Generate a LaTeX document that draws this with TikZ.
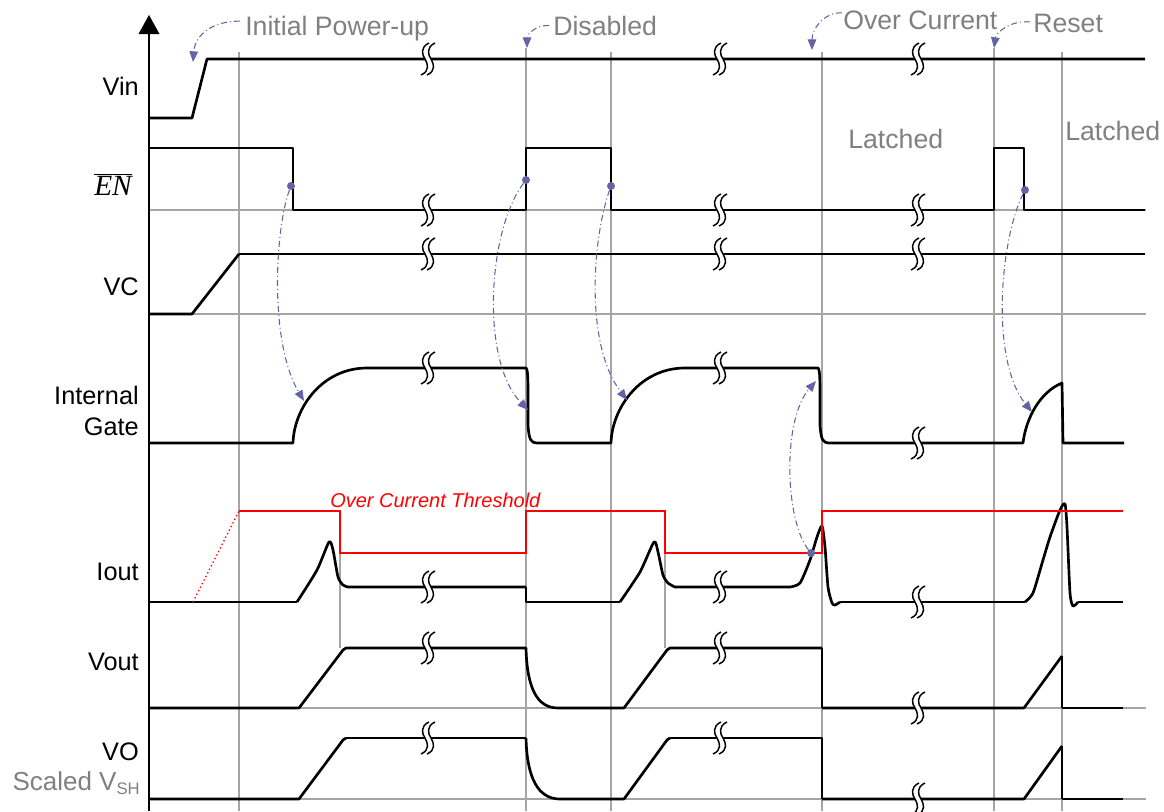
\documentclass[tikz,border=0pt]{standalone}
\usepackage{fontspec}
\setmainfont{Liberation Sans}
\newfontfamily\serifit{Liberation Serif}
\usetikzlibrary{arrows.meta}
\definecolor{gridc}{RGB}{165,165,165}
\definecolor{txtgray}{RGB}{128,128,128}
\definecolor{arrc}{RGB}{100,100,165}
\definecolor{thr}{RGB}{255,0,0}
\tikzset{brk/.pic={
  \fill[white] (1,-16) .. controls (-8,-12) and (-6,-4) .. (-3,0) .. controls (0,5) and (2,12) .. (-7,16) -- (-1,16) .. controls (8,12) and (6,5) .. (3,0) .. controls (0,-4) and (-2,-12) .. (7,-16) -- cycle;
  \draw[line width=1.1pt,black] (1,-16) .. controls (-8,-12) and (-6,-4) .. (-3,0) .. controls (0,5) and (2,12) .. (-7,16);
  \draw[line width=1.1pt,black] (7,-16) .. controls (-2,-12) and (0,-4) .. (3,0) .. controls (6,5) and (8,12) .. (-1,16);
}}
\begin{document}
\begin{tikzpicture}[x=0.75pt,y=-0.75pt,
 sig/.style={line width=2pt,black,line join=round},
 sigthin/.style={line width=1pt,black,line join=round},
 gridl/.style={line width=1.1pt,gridc},
 thrline/.style={line width=1pt,thr},
 flow/.style={arrc,line width=0.8pt,dash pattern=on 4.5pt off 2.25pt on 0.75pt off 2.25pt,-{Triangle[length=8pt,width=6.5pt]}},
 note/.style={txtgray,font=\fontsize{20}{24}\selectfont,inner sep=0pt,anchor=base west},
 lab/.style={black,font=\fontsize{19}{23}\selectfont,inner sep=0pt,anchor=base east},
 dotc/.style={circle,fill=arrc,inner sep=0pt,minimum size=6pt}
]
\useasboundingbox (0,0) rectangle (1164,811);

% grid
\foreach \x in {239,611,822,1062} \draw[gridl] (\x,52) -- (\x,811);
\draw[gridl] (526,48) -- (526,811);
\draw[gridl] (994,48) -- (994,811);
\draw[gridl] (340,511) -- (340,648);
\draw[gridl] (665,511) -- (665,648);
\foreach \y in {210,314,708,799} \draw[gridl] (149,\y) -- (1146,\y);

% axis
\draw[line width=2pt] (149,811) -- (149,30);
\fill (149,15) -- (138.5,34) -- (159.5,34) -- cycle;

% Vin
\draw[sig] (149,118) -- (192,118) -- (207,59) -- (1145,59);
% EN
\draw[sig] (149,148) -- (293,148) -- (293,210) -- (526,210) -- (526,148) -- (611,148) -- (611,210) -- (994,210) -- (994,148) -- (1024,148) -- (1024,210) -- (1145,210);
% VC
\draw[sig] (149,314) -- (192,314) -- (239,254);
\draw[sigthin] (239,254) -- (1145,254);
% Internal gate
\draw[sig] (149,443) -- (293,443) .. controls (294,408) and (322,368) .. (367,368) -- (526,368) .. controls (528,370) and (528,380) .. (528,400) -- (528,425) .. controls (529,440) and (531,443) .. (537,443) -- (611,443) .. controls (612,408) and (640,368) .. (685,368) -- (818,368) .. controls (820,370) and (820,380) .. (820,400) -- (820,425) .. controls (821,440) and (823,443) .. (829,443) -- (1023,443) .. controls (1026,418) and (1040,392) .. (1062,383) -- (1063,443) -- (1124,443);
% Iout
\draw[sigthin] (149,602) -- (297,602);
\draw[sig] plot[smooth,tension=0.4] coordinates {(297,602) (317,570) (329,542) (333,550) (338,577) (343,585) (348,587)} -- (526,587);
\draw[sigthin] (526,587) -- (526,602) -- (620,602);
\draw[sig] plot[smooth,tension=0.4] coordinates {(620,602) (640,572) (654,542) (658,552) (663,575) (668,583) (675,587)} -- (790,587);
\draw[sig] plot[smooth,tension=0.4] coordinates {(790,587) (800,583) (810,560) (817,537) (822,526) (825,547) (828,587) (832,603) (835,605) (840,602)};
\draw[sigthin] (840,602) -- (1025,602);
\draw[sig] plot[smooth,tension=0.4] coordinates {(1025,602) (1033,593) (1043,560) (1050,537) (1060,510) (1065,504) (1067,527) (1070,593) (1073,606) (1078,602)};
\draw[sigthin] (1078,602) -- (1123,602);
% threshold
\draw[thrline,dotted] (193,602) -- (239,511);
\draw[thrline] (239,511) -- (340,511) -- (340,553) -- (526,553) -- (526,511) -- (665,511) -- (665,553) -- (822,553) -- (822,511) -- (1123,511);
% Vout
\draw[sig] (149,708) -- (299,708) -- (343,650) -- (346,648) -- (526,648) .. controls (527,688) and (537,708) .. (558,708) -- (624,708) -- (667,650) -- (670,648) -- (822,648);
\draw[sigthin] (822,648) -- (822,708);
\draw[sig] (822,708) -- (1024,708) -- (1062,656);
\draw[sigthin] (1062,656) -- (1062,708);
\draw[sig] (1062,708) -- (1123,708);
% VO
\draw[sig] (149,799) -- (299,799) -- (343,740) -- (346,738);
\draw[sigthin] (346,738) -- (526,738);
\draw[sig] (526,738) .. controls (527,778) and (538,799) .. (560,799) -- (624,799) -- (667,740) -- (670,738);
\draw[sigthin] (670,738) -- (822,738) -- (822,799);
\draw[sig] (822,799) -- (1024,799) -- (1062,746);
\draw[sigthin] (1062,746) -- (1062,799);
\draw[sig] (1062,799) -- (1123,799);

% breaks
\foreach \y in {59,210,254,368,587,648,738} {\pic at (428,\y) {brk}; \pic at (720,\y) {brk};}
\foreach \y in {59,210,254,443,602,708,799} {\pic at (918,\y) {brk};}

% labels
\node[lab] (vin) at (139,95) {Vin};
\node[lab,font=\fontsize{22}{26}\selectfont] (en) at (132,195) {$\overline{\hbox{\serifit\itshape EN}}$};
\node[lab] (vc) at (139,295) {VC};
\node[lab] (ig1) at (139,404) {Internal};
\node[lab] (ig2) at (139,435) {Gate};
\node[lab] (iout) at (139,580) {Iout};
\node[lab] (vout) at (139,670) {Vout};
\node[lab] (vo) at (139,760) {VO};
\node[lab,text=txtgray,font=\fontsize{19.5}{23}\selectfont] (vsh) at (140,790) {Scaled V{\fontsize{12.5}{14}\selectfont\raisebox{-3.5pt}{SH}}};
\node[anchor=base west,text=thr,font=\fontsize{15}{18}\selectfont\itshape,inner sep=0pt] (oct) at (330,507) {Over Current Threshold};

% top notes
\node[note] (pu) at (245,35) {Initial Power-up};
\node[note] (dis) at (553,35) {Disabled};
\node[note] (oc) at (843,29) {Over Current};
\node[note] (rst) at (1033,32) {Reset};
\node[note] (lt1) at (848,148) {Latched};
\node[note] (lt2) at (1065,140) {Latched};

\coordinate (puT) at (193,62);
\coordinate (disT) at (527,48);
\coordinate (ocT) at (812,50);
\coordinate (rstT) at (994,48);
\draw[flow] ([shift={(-5,-7)}]pu.west) .. controls (212,21) and (195,35) .. (puT);
\draw[flow] ([shift={(-4,0)}]dis.west) .. controls (535,25) and (527,35) .. (disT);
\draw[flow] ([shift={(-1,-7)}]oc.west) .. controls (825,12) and (812,28) .. (ocT);
\draw[flow] ([shift={(-3,-1)}]rst.west) .. controls (1010,20) and (996,33) .. (rstT);

% causal arrows
\node[dotc] (d1) at (291,186) {};
\node[dotc] (d2) at (526,180) {};
\node[dotc] (d3) at (611,186) {};
\node[dotc] (d4) at (811,553) {};
\node[dotc] (d5) at (1025,190) {};
\coordinate (g1) at (304,401);
\coordinate (g2) at (528,410);
\coordinate (g3) at (627,400);
\coordinate (g4) at (816,381);
\coordinate (g5) at (1032,412);
\draw[flow] (d1) .. controls (276,225) and (268,340) .. (g1);
\draw[flow] (d2) .. controls (488,230) and (480,360) .. (g2);
\draw[flow] (d3) .. controls (592,240) and (585,345) .. (g3);
\draw[flow] (d4) .. controls (785,520) and (782,420) .. (g4);
\draw[flow] (d5) .. controls (1000,240) and (990,360) .. (g5);
\end{tikzpicture}
\end{document}
